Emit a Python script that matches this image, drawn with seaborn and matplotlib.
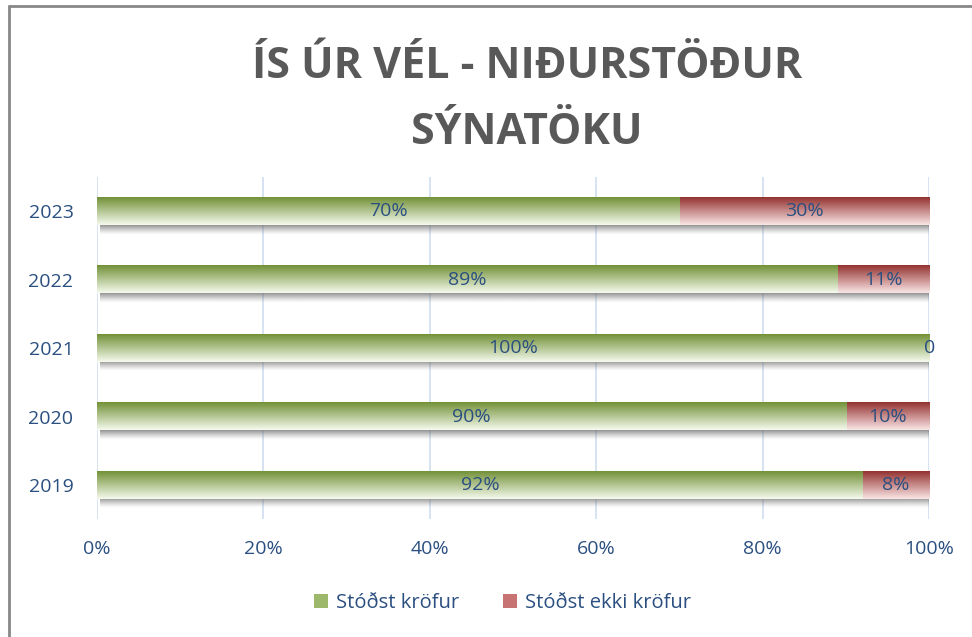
import numpy as np
import pandas as pd
import seaborn as sns
import matplotlib.pyplot as plt
from matplotlib.lines import Line2D
from matplotlib.patches import Patch

# Chart data
years = ['2023', '2022', '2021', '2020', '2019']
passed = [70, 89, 100, 90, 92]
failed = [30, 11, 0, 10, 8]
passed_labels = ['70%', '89%', '100%', '90%', '92%']
failed_labels = ['30%', '11%', '0', '10%', '8%']
xticks = [0, 20, 40, 60, 80, 100]
xtick_labels = ['0%', '20%', '40%', '60%', '80%', '100%']
series_names = ['Stóðst kröfur', 'Stóðst ekki kröfur']

df = pd.DataFrame({'year': years, 'passed': passed, 'failed': failed})
df['total'] = df['passed'] + df['failed']

sns.set_style('white')
plt.rcParams['font.family'] = ['Open Sans', 'DejaVu Sans']

text_blue = '#2A4F80'
green_top, green_bot = np.array([0.45, 0.57, 0.22]), np.array([0.96, 0.98, 0.93])
red_top, red_bot = np.array([0.58, 0.20, 0.19]), np.array([0.98, 0.90, 0.90])

fig = plt.figure(figsize=(9.72, 6.37), dpi=100)
ax = fig.add_axes([0.0998, 0.185, 0.8562, 0.537])

# stacked bars: total (red) behind, passed (green) in front
sns.barplot(data=df, y='year', x='total', order=years, orient='h', width=0.4,
            color='red', ax=ax)
sns.barplot(data=df, y='year', x='passed', order=years, orient='h', width=0.4,
            color='green', ax=ax)


def gradient(top, bot, n=64):
    t = np.linspace(0, 1, n)[:, None]
    rgb = top[None, :] * (1 - t) + bot[None, :] * t
    return rgb[:, None, :]


patches = list(ax.patches)
red_patches, green_patches = patches[:5], patches[5:]

for p in red_patches:
    x0, y0, w, h = p.get_x(), p.get_y(), p.get_width(), p.get_height()
    p.set_visible(False)
    # soft shadow under the bar
    t = np.linspace(0, 1, 32)[:, None]
    sh = np.zeros((32, 1, 4))
    sh[..., :3] = 0.4
    sh[..., 3] = (0.7 * (1 - t) ** 1.3)
    ax.imshow(sh, extent=(x0 + 0.4, x0 + w + 0.6, y0 + h + 0.14, y0 + h),
              aspect='auto', zorder=1.5, interpolation='bilinear')
    if w > 0:
        ax.imshow(gradient(red_top, red_bot), extent=(x0, x0 + w, y0 + h, y0),
                  aspect='auto', zorder=2, interpolation='bilinear')

for p in green_patches:
    x0, y0, w, h = p.get_x(), p.get_y(), p.get_width(), p.get_height()
    p.set_visible(False)
    ax.imshow(gradient(green_top, green_bot), extent=(x0, x0 + w, y0 + h, y0),
              aspect='auto', zorder=3, interpolation='bilinear')

# data labels
fs = 14
for i in range(len(years)):
    ax.text(passed[i] / 2, i, passed_labels[i], ha='center', va='center',
            fontsize=fs, color=text_blue, zorder=5)
    if failed[i] > 0:
        ax.text(passed[i] + failed[i] / 2, i, failed_labels[i], ha='center',
                va='center', fontsize=fs, color=text_blue, zorder=5)
    else:
        ax.text(100.0, i, failed_labels[i], ha='center', va='center',
                fontsize=fs, color=text_blue, zorder=5)

ax.set_xlim(0, 100)
ax.set_ylim(4.5, -0.5)
ax.set_xticks(xticks)
ax.set_xticklabels(xtick_labels)
ax.set_xlabel('')
ax.set_ylabel('')
ax.tick_params(axis='x', length=0, pad=15, labelsize=fs, labelcolor=text_blue)
ax.tick_params(axis='y', length=0, pad=17, labelsize=fs, labelcolor=text_blue)
for s in ax.spines.values():
    s.set_visible(False)
for xv in xticks:
    ax.axvline(xv, color='#D0DEF0', lw=1.2, zorder=0.5)

fig.suptitle('ÍS ÚR VÉL - NIÐURSTÖÐUR\nSÝNATÖKU', x=0.542, y=0.93,
             fontsize=31, fontweight='bold', color='#595959', linespacing=1.72)

handles = [Patch(facecolor=(0.62, 0.72, 0.42), edgecolor='none'),
           Patch(facecolor=(0.78, 0.45, 0.45), edgecolor='none')]
fig.legend(handles, series_names, loc='center', bbox_to_anchor=(0.517, 0.053),
           ncol=2, frameon=False, fontsize=14.5, handlelength=0.7, handleheight=0.7,
           columnspacing=2.2, handletextpad=0.4, labelcolor=text_blue)

# chart frame (only left and top edges are visible in the crop)
fig.add_artist(Line2D([0.009, 0.009], [0, 0.99], transform=fig.transFigure,
                      color='#888888', lw=2))
fig.add_artist(Line2D([0.009, 1], [0.99, 0.99], transform=fig.transFigure,
                      color='#888888', lw=2))

fig.savefig('out.png', dpi=100)
